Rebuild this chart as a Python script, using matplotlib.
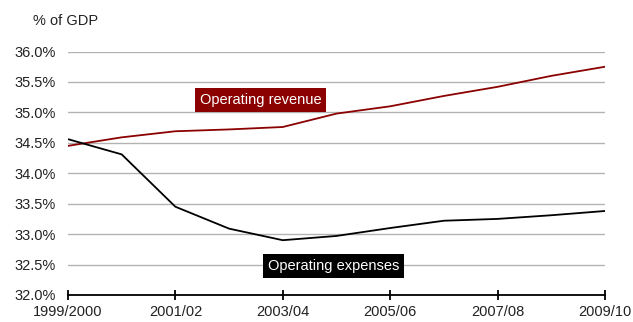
import matplotlib.pyplot as plt
from matplotlib.ticker import FuncFormatter

plt.rcParams['font.family'] = ['Liberation Sans', 'DejaVu Sans']

years = ["1999/2000", "2000/01", "2001/02", "2002/03", "2003/04", "2004/05",
         "2005/06", "2006/07", "2007/08", "2008/09", "2009/10"]
revenue = [34.45, 34.59, 34.69, 34.72, 34.76, 34.98, 35.10, 35.27, 35.42, 35.60, 35.75]
expenses = [34.56, 34.31, 33.45, 33.09, 32.90, 32.97, 33.10, 33.22, 33.25, 33.31, 33.38]
yticks = [32.0, 32.5, 33.0, 33.5, 34.0, 34.5, 35.0, 35.5, 36.0]

red = "#8b0000"
fs = 10.5

fig = plt.figure(figsize=(6.33, 3.22), dpi=100)
ax = fig.add_axes([0.1074, 0.0839, 0.8483, 0.7561])

x = list(range(len(years)))
ax.plot(x, revenue, color=red, lw=1.3, zorder=3)
ax.plot(x, expenses, color="black", lw=1.3, zorder=3)

ax.set_xlim(0, len(years) - 1)
ax.set_ylim(32.0, 36.0)
ax.set_yticks(yticks)
ax.yaxis.set_major_formatter(FuncFormatter(lambda v, p: f"{v:.1f}%"))
ax.set_xticks(x[::2])
ax.set_xticklabels(years[::2])

ax.grid(axis="y", color="#b3b3b3", lw=1.0)
ax.set_axisbelow(True)
for s in ["top", "right", "left"]:
    ax.spines[s].set_visible(False)
ax.spines["bottom"].set_linewidth(1.3)
ax.tick_params(axis="y", length=0, pad=8.5, labelsize=fs, labelcolor="#222222")
ax.tick_params(axis="x", direction="inout", length=7, width=1.3, pad=4,
               labelsize=fs, labelcolor="#222222")

ax.text(3.59, 35.20, "Operating revenue", color="white", fontsize=fs,
        ha="center", va="center", zorder=4,
        bbox=dict(facecolor=red, edgecolor="none", pad=3.5))
ax.text(4.95, 32.48, "Operating expenses", color="white", fontsize=fs,
        ha="center", va="center", zorder=4,
        bbox=dict(facecolor="black", edgecolor="none", pad=3.5))

fig.text(0.052, 0.935, "% of GDP", fontsize=fs, color="#222222", va="center")

fig.savefig("out.png", dpi=100)
